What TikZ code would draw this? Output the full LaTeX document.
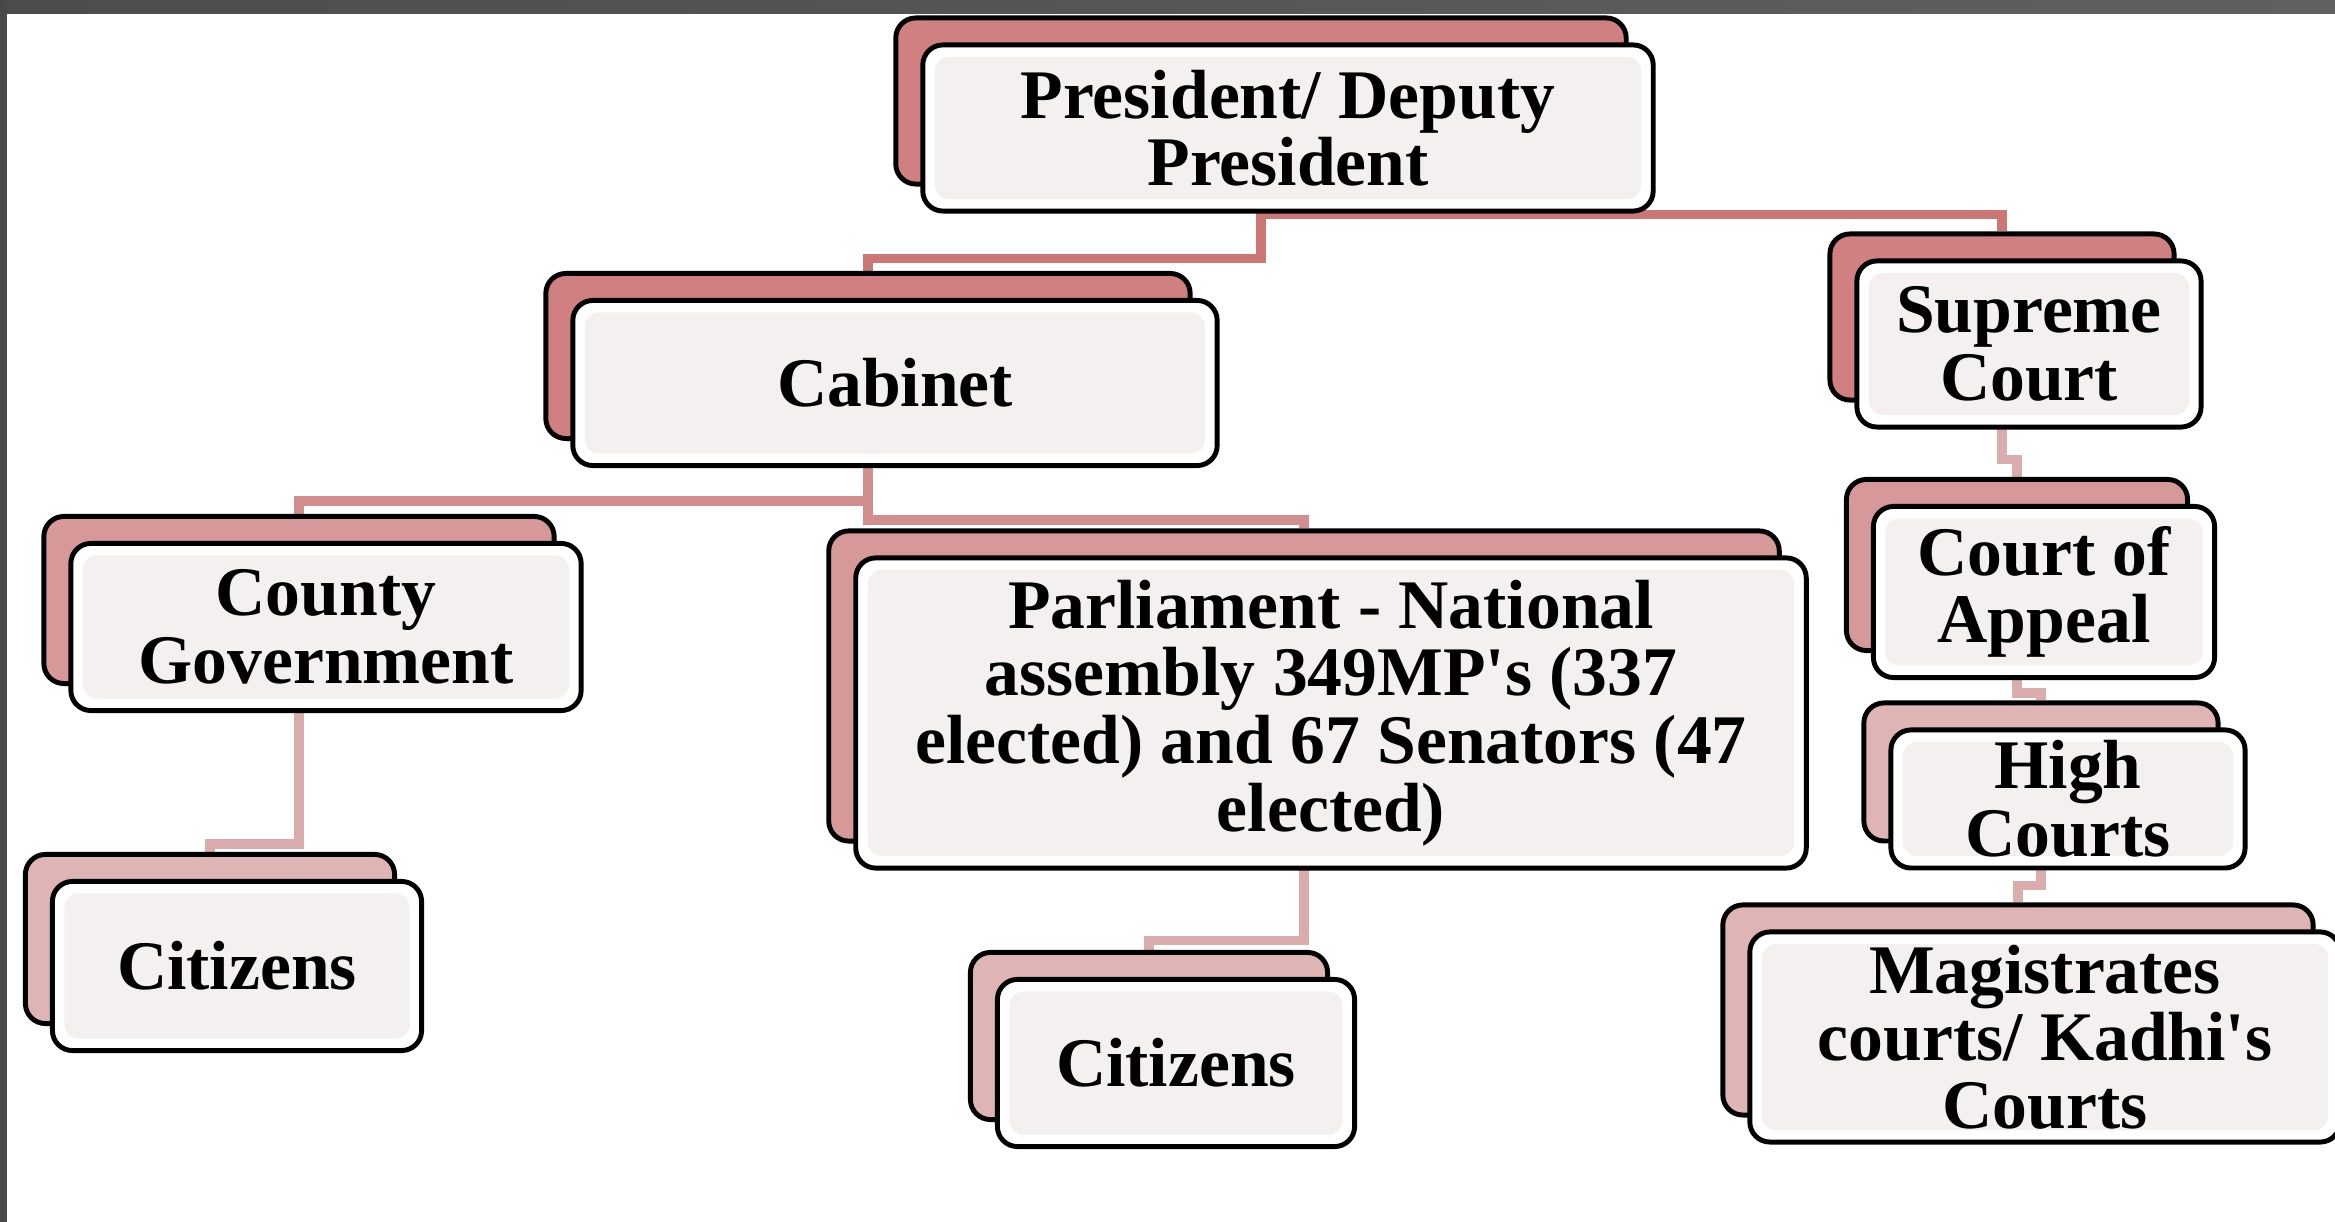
\documentclass[tikz,border=0pt]{standalone}
\usepackage{fontspec}
\setmainfont{Liberation Serif}
\usepackage{tikz}
\usetikzlibrary{backgrounds, calc}

\definecolor{cardA}{RGB}{208,128,128}
\definecolor{cardB}{RGB}{214,152,152}
\definecolor{cardC}{RGB}{222,180,180}
\definecolor{linkA}{RGB}{204,118,118}
\definecolor{linkB}{RGB}{210,142,142}
\definecolor{linkC}{RGB}{218,172,172}
\definecolor{face}{RGB}{245,240,240}
\definecolor{framegray}{RGB}{96,96,96}

\begin{document}
\begin{tikzpicture}[
    x=0.01cm, y=-0.01cm,
    card/.style={draw, line width=1.4pt, rounded corners=0.2cm, fill=white, inner sep=0pt, align=center,
        font=\fontsize{19.8}{19.2}\selectfont\bfseries,
        path picture={\fill[face, rounded corners=0.14cm]
            ([shift={(0.12cm,-0.12cm)}]path picture bounding box.north west) rectangle
            ([shift={(-0.12cm,0.12cm)}]path picture bounding box.south east);}},
    backcard/.style={draw, line width=1.4pt, rounded corners=0.2cm, inner sep=0pt},
    link/.style={line width=2.8pt}
]
    \useasboundingbox (0,0) rectangle (2335,1222);
    \begin{scope}[on background layer]
        \fill[white] (0,0) rectangle (2335,1222);
    \end{scope}

    % Executive
    \node[backcard, fill=cardA, minimum width=7.30cm, minimum height=1.66cm] (presB) at (1261,101) {};
    \node[card, minimum width=7.30cm, minimum height=1.66cm] (pres) at ([shift={(27,27)}]presB.center) {President/ Deputy\\President};

    \node[backcard, fill=cardA, minimum width=6.44cm, minimum height=1.65cm] (cabB) at (868,356) {};
    \node[card, minimum width=6.44cm, minimum height=1.65cm] (cab) at ([shift={(27,27)}]cabB.center) {Cabinet};

    \node[backcard, fill=cardB, minimum width=5.10cm, minimum height=1.67cm] (countyB) at (299,600) {};
    \node[card, minimum width=5.10cm, minimum height=1.67cm] (county) at ([shift={(27,27)}]countyB.center) {County\\Government};

    \node[backcard, fill=cardB, minimum width=9.50cm, minimum height=3.10cm] (parlB) at (1304,686) {};
    \node[card, minimum width=9.50cm, minimum height=3.10cm] (parl) at ([shift={(27,27)}]parlB.center) {Parliament - National\\assembly 349MP\textquotesingle s (337\\elected) and 67 Senators (47\\elected)};

    \node[backcard, fill=cardC, minimum width=3.69cm, minimum height=1.69cm] (citLB) at (210,939) {};
    \node[card, minimum width=3.69cm, minimum height=1.69cm] (citL) at ([shift={(27,27)}]citLB.center) {Citizens};

    \node[backcard, fill=cardC, minimum width=3.57cm, minimum height=1.67cm] (citMB) at (1149,1036) {};
    \node[card, minimum width=3.57cm, minimum height=1.67cm] (citM) at ([shift={(27,27)}]citMB.center) {Citizens};

    % Judiciary
    \node[backcard, fill=cardA, minimum width=3.44cm, minimum height=1.66cm] (supB) at (2002,317) {};
    \node[card, minimum width=3.44cm, minimum height=1.66cm] (sup) at ([shift={(27,27)}]supB.center) {Supreme\\Court};

    \node[backcard, fill=cardB, minimum width=3.41cm, minimum height=1.71cm] (coaB) at (2017,565) {};
    \node[card, minimum width=3.41cm, minimum height=1.71cm] (coa) at ([shift={(27,27)}]coaB.center) {Court of\\Appeal};

    \node[backcard, fill=cardC, minimum width=3.54cm, minimum height=1.38cm] (highB) at (2041,772) {};
    \node[card, minimum width=3.54cm, minimum height=1.38cm] (high) at ([shift={(27,27)}]highB.center) {High\\Courts};

    \node[backcard, fill=cardC, minimum width=5.90cm, minimum height=2.10cm] (magB) at (2018,1010) {};
    \node[card, minimum width=5.90cm, minimum height=2.10cm] (mag) at ([shift={(27,27)}]magB.center) {Magistrates\\courts/ Kadhi\textquotesingle s\\Courts};

    % Connectors
    \begin{scope}[on background layer]
        \draw[link, linkA] (presB.south) -- ++(0,72) -| (cabB.north);
        \draw[link, linkA] (presB.south) -- ++(0,28) -| (supB.north);
        \draw[link, linkB] (cabB.south) -- ++(0,60) -| (countyB.north);
        \draw[link, linkB] (cabB.south) -- ++(0,79) -| (parlB.north);
        \draw[link, linkC] (countyB.south) -- ++(0,158) -| (citLB.north);
        \draw[link, linkC] (parlB.south) -- ++(0,97) -| (citMB.north);
        \draw[link, linkC] (supB.south) -- ++(0,57) -| (coaB.north);
        \draw[link, linkC] (coaB.south) -- ++(0,40) -| (highB.north);
        \draw[link, linkC] (highB.south) -- ++(0,42) -| (magB.north);
    \end{scope}

    % Frame
    \shade[left color=framegray!80!black, right color=framegray] (0,0) rectangle (2335,14);
    \fill[framegray!75!black] (0,0) rectangle (7,1222);
\end{tikzpicture}
\end{document}
